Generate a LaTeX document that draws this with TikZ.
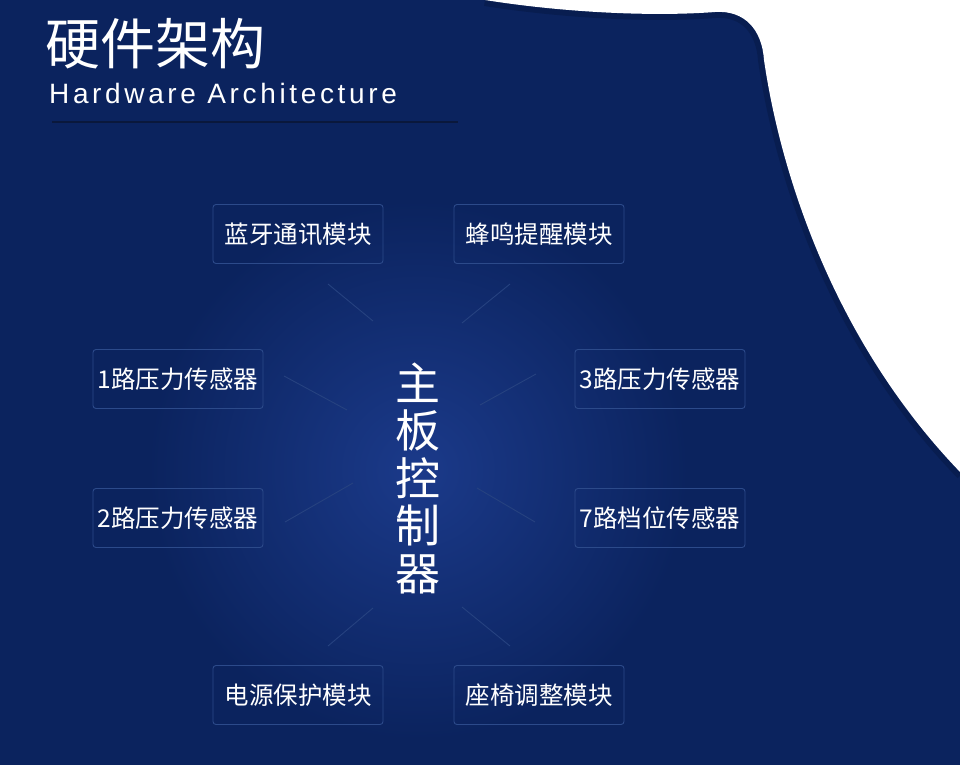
\documentclass[tikz,border=0pt]{standalone}
\usepackage{fontspec}
\setmainfont{Noto Sans CJK SC}
\newfontfamily\cjk{Noto Sans CJK SC}
\newfontfamily\latinlight[LetterSpace=13]{Liberation Sans}
\definecolor{bgnavy}{RGB}{11,35,94}
\definecolor{glowblue}{RGB}{27,58,138}
\definecolor{edgedark}{RGB}{8,29,80}
\definecolor{boxline}{RGB}{44,74,138}
\definecolor{rayline}{RGB}{38,66,128}
\definecolor{ruleline}{RGB}{10,24,60}
\tikzset{
  modbox/.style={draw=boxline, line width=0.9pt, rounded corners=3pt,
    minimum width=170pt, minimum height=59pt, inner sep=0pt,
    text=white, font=\cjk\fontsize{24.5}{26}\selectfont},
  ray/.style={draw=rayline, line width=0.9pt},
}
\begin{document}
\begin{tikzpicture}[x=1pt,y=-1pt]
\useasboundingbox (0,0) rectangle (960,765);
% background
\fill[bgnavy] (0,0) rectangle (960,765);
\shade[inner color=glowblue, outer color=bgnavy] (418,470) circle (270);
% dark edge along the curve
\draw[edgedark, line width=12pt]
  (485,0) .. controls (560,12) and (650,17) .. (715,12)
  .. controls (745,10) and (762,30) .. (764,60)
  .. controls (780,170) and (832,340) .. (962,474);
\fill[white]
  (485,0) .. controls (560,12) and (650,17) .. (715,12)
  .. controls (745,10) and (762,30) .. (764,60)
  .. controls (780,170) and (832,340) .. (962,474)
  -- (962,-2) -- cycle;
% title
\node[anchor=north west, inner sep=0pt, text=white, font=\cjk\fontsize{55}{55}\selectfont] (title) at (45,18) {硬件架构};
\node[anchor=north west, inner sep=0pt, text=white, font=\latinlight\fontsize{28}{28}\selectfont] (subtitle) at (49,83) {Hardware Architecture};
\coordinate (ruleA) at (52,122);
\coordinate (ruleB) at (458,122);
\draw[ruleline, line width=1pt] (ruleA) -- (ruleB);
% center
\node[text=white, align=center, inner sep=0pt,
  font=\cjk\fontsize{45}{47.5}\selectfont] (main) at (418,478) {主\\板\\控\\制\\器};
% modules
\node[modbox] (bt) at (298,234) {蓝牙通讯模块};
\node[modbox] (bz) at (539,234) {蜂鸣提醒模块};
\node[modbox] (p1) at (178,379) {1路压力传感器};
\node[modbox] (p2) at (178,518) {2路压力传感器};
\node[modbox] (p3) at (660,379) {3路压力传感器};
\node[modbox] (p7) at (660,518) {7路档位传感器};
\node[modbox] (pw) at (298,695) {电源保护模块};
\node[modbox] (st) at (539,695) {座椅调整模块};
% rays
\coordinate (tlA) at (328,284); \coordinate (tlB) at (373,321);
\coordinate (trA) at (510,284); \coordinate (trB) at (462,323);
\coordinate (l1A) at (284,376); \coordinate (l1B) at (347,410);
\coordinate (l2A) at (285,522); \coordinate (l2B) at (353,483);
\coordinate (r3A) at (536,374); \coordinate (r3B) at (480,405);
\coordinate (r7A) at (535,522); \coordinate (r7B) at (477,488);
\coordinate (blA) at (328,646); \coordinate (blB) at (373,608);
\coordinate (brA) at (510,646); \coordinate (brB) at (462,607);
\draw[ray] (tlA) -- (tlB);
\draw[ray] (trA) -- (trB);
\draw[ray] (l1A) -- (l1B);
\draw[ray] (l2A) -- (l2B);
\draw[ray] (r3A) -- (r3B);
\draw[ray] (r7A) -- (r7B);
\draw[ray] (blA) -- (blB);
\draw[ray] (brA) -- (brB);
\end{tikzpicture}
\end{document}
